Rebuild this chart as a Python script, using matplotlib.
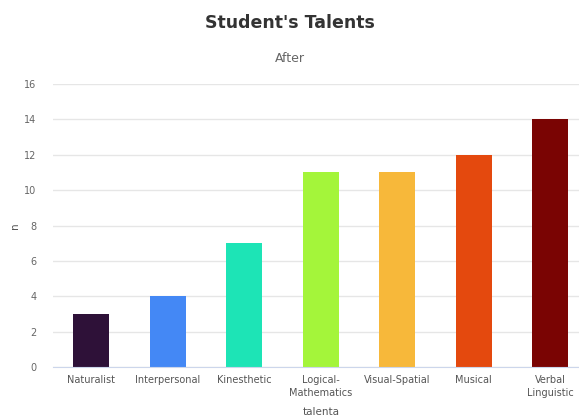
import matplotlib
matplotlib.use("Agg")
import matplotlib.pyplot as plt

# data
talenta = ["Naturalist", "Interpersonal", "Kinesthetic", "Logical-\nMathematics",
           "Visual-Spatial", "Musical", "Verbal\nLinguistic"]
n = [3, 4, 7, 11, 11, 12, 14]
warna = ["#2e1138", "#4488f5", "#1de4b6", "#a4f53a", "#f7b83a", "#e4490e", "#7a0403"]
y_ticks = [0, 2, 4, 6, 8, 10, 12, 14, 16]

fig = plt.figure(figsize=(5.79, 4.17), dpi=100)
W, H = 579, 417
# plot area runs a little past the right edge, like the cropped original
ax = fig.add_axes([53 / W, 50 / H, 535.5 / W, 283 / H])

x = list(range(len(talenta)))
ax.bar(x, n, width=0.47, color=warna, zorder=3)

ax.set_xlim(-0.5, len(talenta) - 0.5)
ax.set_ylim(0, 16)
ax.set_yticks(y_ticks)
ax.set_xticks(x)
ax.set_xticklabels(talenta, fontsize=7, color="#555555", linespacing=1.3)
ax.tick_params(axis="y", labelsize=7, colors="#666666", length=0, pad=12)
ax.tick_params(axis="x", length=0, pad=6)

ax.grid(axis="y", color="#e6e6e6", linewidth=1, zorder=0)
for s in ["top", "right", "left"]:
    ax.spines[s].set_visible(False)
ax.spines["bottom"].set_color("#ccd6eb")
ax.spines["bottom"].set_zorder(4)

ax.set_ylabel("n", fontsize=7.5, color="#555555", labelpad=3)
ax.set_xlabel("talenta", fontsize=7.5, color="#555555", labelpad=7)

fig.text(0.5, 1 - 23 / H, "Student's Talents", ha="center", va="center",
         fontsize=12.5, fontweight="bold", color="#333333")
fig.text(0.5, 1 - 58 / H, "After", ha="center", va="center",
         fontsize=9, color="#666666")

fig.savefig("out.png", dpi=100, facecolor="white")
